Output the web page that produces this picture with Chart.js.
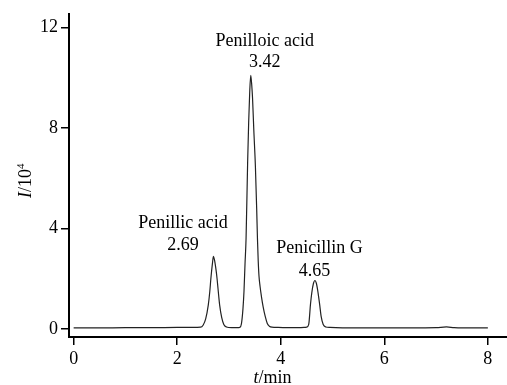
<!DOCTYPE html>
<html>
<head>
<meta charset="utf-8">
<title>Chromatogram</title>
<script src="https://cdn.jsdelivr.net/npm/chart.js@4.4.1/dist/chart.umd.min.js"></script>
<style>
    html, body { margin: 0; padding: 0; background: #fff; }
    canvas { display: block; }
</style>
</head>
<body>
<canvas id="chromatogram" width="507" height="385"></canvas>
<script>
// --- 1. DATA ---
const retentionTime = [
    0.00, 0.50, 1.00, 1.50, 2.00, 2.30, 2.45, 2.50, 2.55, 2.60,
    2.63, 2.65, 2.68, 2.70, 2.72, 2.75, 2.77, 2.80, 2.82, 2.86,
    2.90, 2.95, 3.05, 3.15, 3.21, 3.24, 3.27, 3.29, 3.31, 3.33,
    3.36, 3.38, 3.40, 3.42, 3.44, 3.455, 3.48, 3.51, 3.535, 3.55,
    3.565, 3.58, 3.60, 3.63, 3.66, 3.70, 3.74, 3.78, 3.83, 3.95,
    4.20, 4.45, 4.50, 4.54, 4.575, 4.60, 4.63, 4.66, 4.69, 4.72,
    4.75, 4.78, 4.82, 4.87, 4.95, 5.50, 6.00, 6.50, 7.00, 7.20,
    7.35, 7.50, 8.00
];
const intensity = [
    0.04, 0.04, 0.05, 0.05, 0.06, 0.06, 0.07, 0.15, 0.40, 0.95,
    1.50, 2.00, 2.60, 2.89, 2.75, 2.35, 2.00, 1.35, 0.95, 0.45,
    0.18, 0.08, 0.05, 0.05, 0.06, 0.20, 0.80, 1.50, 2.60, 3.60,
    6.60, 8.20, 9.40, 10.10, 9.70, 9.20, 7.90, 6.50, 4.80, 3.60,
    2.70, 2.10, 1.70, 1.25, 0.88, 0.50, 0.22, 0.11, 0.07, 0.06,
    0.05, 0.06, 0.07, 0.18, 1.00, 1.45, 1.80, 1.93, 1.80, 1.45,
    1.00, 0.50, 0.18, 0.08, 0.06, 0.04, 0.04, 0.04, 0.05, 0.08,
    0.05, 0.04, 0.04
];

const peakNames = ['Penillic acid', 'Penilloic acid', 'Penicillin G'];
const peakTimes = [2.69, 3.42, 4.65];
const peakTops  = [2.89, 10.10, 1.93];

const xTicks = [0, 2, 4, 6, 8];
const yTicks = [0, 4, 8, 12];

// --- 2. LABEL PLACEMENT (pixel offsets from each peak top) ---
const labelOffsets = [
    { nameDx: -30, valueDx: -30, nameDy: -28, valueDy: -6 },
    { nameDx: 14,  valueDx: 14,  nameDy: -29, valueDy: -8 },
    { nameDx: 5,   valueDx: 0,   nameDy: -27, valueDy: -4 }
];

const SERIF = '"Liberation Serif", "Times New Roman", serif';

// draw "a/b" style text where some parts are italic / superscript
function drawParts(ctx, parts, cx, baseline) {
    let total = 0;
    parts.forEach(p => {
        ctx.font = p.font;
        p.w = ctx.measureText(p.text).width;
        total += p.w;
    });
    let x = cx - total / 2;
    ctx.textAlign = 'left';
    ctx.textBaseline = 'alphabetic';
    parts.forEach(p => {
        ctx.font = p.font;
        ctx.fillText(p.text, x, baseline - (p.rise || 0));
        x += p.w;
    });
}

const annotationPlugin = {
    id: 'chromAnnotations',
    afterDraw(chart) {
        const ctx = chart.ctx;
        const xs = chart.scales.x;
        const ys = chart.scales.y;
        ctx.save();
        ctx.fillStyle = '#000';

        // peak labels
        ctx.font = '18px ' + SERIF;
        ctx.textAlign = 'center';
        ctx.textBaseline = 'alphabetic';
        peakNames.forEach((name, i) => {
            const px = xs.getPixelForValue(peakTimes[i]);
            const py = ys.getPixelForValue(peakTops[i]);
            const o = labelOffsets[i];
            ctx.fillText(name, px + o.nameDx, py + o.nameDy);
            ctx.fillText(peakTimes[i].toFixed(2), px + o.valueDx, py + o.valueDy);
        });

        // x axis title: t/min
        drawParts(ctx, [
            { text: 't', font: 'italic 18px ' + SERIF },
            { text: '/min', font: '18px ' + SERIF }
        ], xs.getPixelForValue(3.84), chart.height - 2);

        // y axis title: I/10^4 (rotated)
        ctx.save();
        ctx.translate(31, ys.getPixelForValue(5.9));
        ctx.rotate(-Math.PI / 2);
        drawParts(ctx, [
            { text: 'I', font: 'italic 18px ' + SERIF },
            { text: '/10', font: '18px ' + SERIF },
            { text: '4', font: '11px ' + SERIF, rise: 7 }
        ], 0, 0);
        ctx.restore();

        ctx.restore();
    }
};

// --- 3. BUILD CHART ---
const points = retentionTime.map((t, i) => ({ x: t, y: intensity[i] }));

new Chart(document.getElementById('chromatogram').getContext('2d'), {
    type: 'line',
    data: {
        datasets: [{
            data: points,
            borderColor: '#222',
            borderWidth: 1.2,
            pointRadius: 0,
            fill: false,
            cubicInterpolationMode: 'monotone'
        }]
    },
    options: {
        responsive: false,
        animation: false,
        layout: { padding: { top: 11, right: 0, left: 0, bottom: 0 } },
        plugins: {
            legend: { display: false },
            tooltip: { enabled: false }
        },
        scales: {
            x: {
                type: 'linear',
                min: -0.09,
                max: 8.37,
                afterBuildTicks: s => { s.ticks = xTicks.map(v => ({ value: v })); },
                afterFit: s => { s.height = 48; },
                grid: { drawOnChartArea: false, drawTicks: true, tickLength: 8, color: '#000', lineWidth: 1.5 },
                border: { display: true, color: '#000', width: 2 },
                ticks: {
                    color: '#000',
                    padding: 3,
                    maxRotation: 0,
                    font: { family: SERIF, size: 18 },
                    callback: v => String(v)
                }
            },
            y: {
                type: 'linear',
                min: -0.32,
                max: 12.55,
                afterBuildTicks: s => { s.ticks = yTicks.map(v => ({ value: v })); },
                afterFit: s => { s.width = 69; },
                grid: { drawOnChartArea: false, drawTicks: true, tickLength: 8, color: '#000', lineWidth: 1.5 },
                border: { display: true, color: '#000', width: 2 },
                ticks: {
                    color: '#000',
                    padding: 3,
                    font: { family: SERIF, size: 18 },
                    callback: v => String(v)
                }
            }
        }
    },
    plugins: [annotationPlugin]
});
</script>
</body>
</html>
